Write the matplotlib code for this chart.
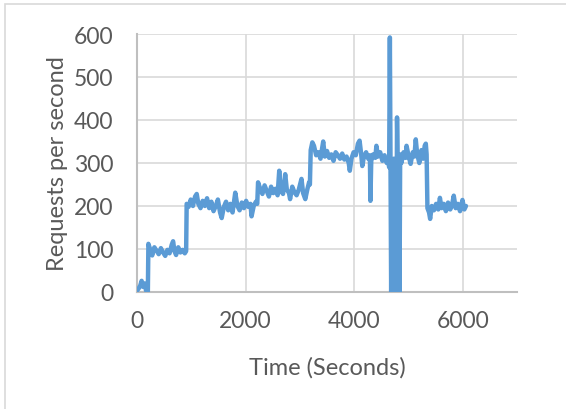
import matplotlib
matplotlib.use("Agg")
import matplotlib.pyplot as plt
from matplotlib.patches import Rectangle

# Time (seconds) and requests per second
time_s = [
    0, 30, 60, 85, 110, 140, 165, 185, 200,
    210, 240, 280, 320, 360, 400, 440, 480, 520, 560, 600, 640, 665, 690,
    720, 760, 800, 840, 880, 905,
    915, 950, 990, 1030, 1070, 1100, 1130, 1170, 1210, 1250, 1290, 1330,
    1370, 1410, 1450, 1490, 1530, 1560, 1600, 1640, 1680, 1720, 1760, 1810,
    1850, 1890, 1930, 1970, 2010, 2050, 2090, 2110, 2150, 2190, 2215,
    2230, 2270, 2310, 2350, 2390, 2430, 2470, 2510, 2550, 2590, 2620, 2650,
    2690, 2730, 2760, 2800, 2820, 2860, 2900, 2940, 2980, 3030, 3060, 3100,
    3140, 3170, 3185,
    3200, 3230, 3260, 3300, 3340, 3380, 3430, 3460, 3500, 3540, 3580, 3620,
    3660, 3700, 3740, 3780, 3820, 3860, 3900, 3920, 3950, 3990, 4030, 4070,
    4100, 4130, 4150, 4180, 4220, 4260, 4290, 4300, 4315, 4350, 4390, 4410,
    4440, 4480, 4520, 4560, 4600, 4625,
    4645, 4658, 4670, 4682, 4694, 4706, 4718, 4730, 4742, 4754, 4766, 4778,
    4790, 4800, 4812, 4824, 4836, 4848,
    4870, 4910, 4950, 4965, 5000, 5040, 5080, 5110, 5135, 5160, 5200, 5240,
    5270, 5300, 5320, 5335,
    5350, 5380, 5400, 5430, 5470, 5510, 5550, 5580, 5610, 5650, 5690, 5730,
    5770, 5800, 5835, 5870, 5910, 5950, 5995, 6030, 6060,
]
requests = [
    3, 8, 15, 26, 12, 20, 4, 0, 2,
    112, 100, 85, 104, 96, 88, 102, 92, 84, 98, 90, 110, 118, 95,
    86, 104, 92, 98, 90, 95,
    205, 198, 215, 200, 222, 228, 205, 195, 212, 200, 218, 195,
    210, 188, 200, 215, 185, 172, 198, 210, 190, 205, 185, 231,
    200, 190, 208, 195, 212, 198, 205, 176, 200, 210, 205,
    255, 240, 228, 248, 235, 222, 245, 230, 240, 225, 282, 235,
    228, 274, 238, 230, 216, 245, 232, 225, 238, 263, 230, 216,
    240, 255, 250,
    330, 348, 340, 318, 325, 310, 350, 315, 328, 312, 320, 305,
    325, 318, 310, 322, 308, 315, 300, 282, 310, 325, 318, 345,
    352, 320, 293, 315, 325, 310, 318, 212, 305, 320, 312, 340,
    315, 325, 305, 318, 300, 312,
    290, 592, 300, 0, 305, 5, 295, 310, 290, 300, 285, 0,
    406, 310, 0, 300, 0, 320,
    300, 325, 312, 340, 318, 298, 325, 315, 355, 322, 300, 330,
    310, 340, 345, 320,
    195, 185, 170, 200, 190, 205, 192, 219, 195, 205, 188, 208,
    192, 200, 224, 195, 205, 188, 214, 192, 200,
]

x_ticks = [0, 2000, 4000, 6000]
y_ticks = [0, 100, 200, 300, 400, 500, 600]

line_color = "#5B9BD5"
text_color = "#595959"
grid_color = "#D9D9D9"

plt.rcParams['font.family'] = ['Lato', 'DejaVu Sans']

fig = plt.figure(figsize=(5.66, 4.10), dpi=100)
fig.patch.set_facecolor("white")

# Chart area border (runs off the right and bottom of the crop)
fig.patches.append(Rectangle((5 / 566, -0.2), 1.2, 1.2 - 5 / 410,
                             transform=fig.transFigure, fill=False,
                             edgecolor=grid_color, linewidth=1.2))

ax = fig.add_axes([137 / 566, 1 - 293 / 410, 380 / 566, 258 / 410])
ax.plot(time_s, requests, color=line_color, linewidth=3.2,
        solid_joinstyle="round", solid_capstyle="round", zorder=3)

ax.set_xlim(0, 7000)
ax.set_ylim(0, 600)
ax.set_xticks(x_ticks)
ax.set_yticks(y_ticks)
ax.grid(True, color=grid_color, linewidth=1.2, zorder=0)
ax.set_axisbelow(True)

for side in ["top", "right"]:
    ax.spines[side].set_visible(False)
for side in ["left", "bottom"]:
    ax.spines[side].set_color("#BFBFBF")
    ax.spines[side].set_linewidth(1.5)

ax.tick_params(length=0, labelsize=16.5, colors=text_color)
ax.tick_params(axis="y", pad=17)
ax.tick_params(axis="x", pad=13)

ax.set_xlabel("Time (Seconds)", fontsize=17, color=text_color, labelpad=18)
ax.set_ylabel("Requests per second", fontsize=17, color=text_color, labelpad=4)

fig.savefig("out.png", dpi=100)
